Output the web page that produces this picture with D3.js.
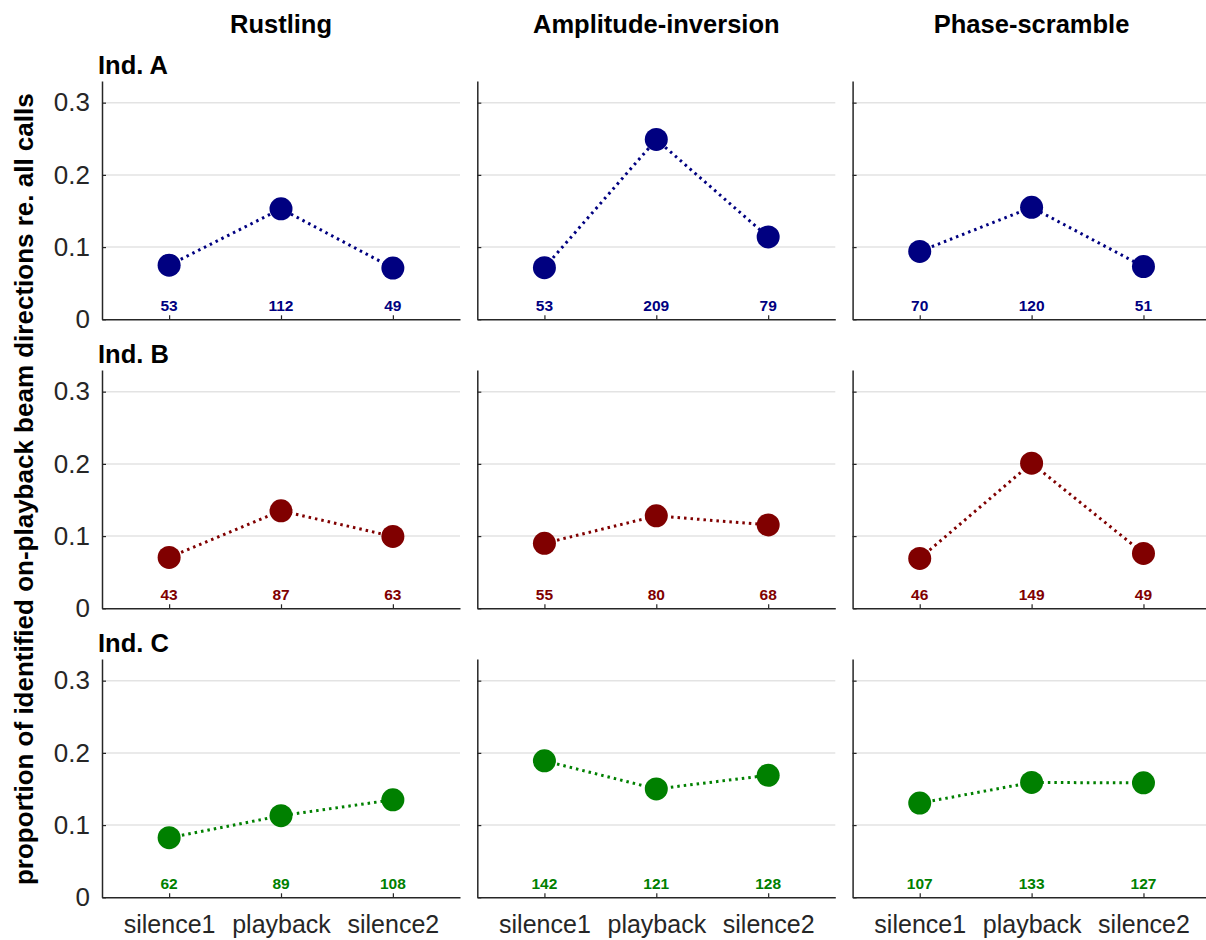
<!DOCTYPE html>
<html>
<head>
<meta charset="utf-8">
<script src="https://cdn.jsdelivr.net/npm/d3@7"></script>
<style>
  html, body { margin: 0; padding: 0; background: #fff; }
  svg { display: block; font-family: "Liberation Sans", Arial, Helvetica, sans-serif; }
</style>
</head>
<body>
<svg id="chart" width="1206" height="940"></svg>
<script>
// Stimulus types (columns), individuals (rows) and recording phases (x axis)
const stimuli = ["Rustling", "Amplitude-inversion", "Phase-scramble"];
const individuals = ["Ind. A", "Ind. B", "Ind. C"];
const phases = ["silence1", "playback", "silence2"];

// Proportion of on-playback beam directions, one row per stimulus
const proportionsA = [[0.075, 0.153, 0.071], [0.0715, 0.249, 0.114], [0.094, 0.155, 0.073]];
const proportionsB = [[0.0705, 0.135, 0.0995], [0.090, 0.128, 0.1155], [0.069, 0.201, 0.076]];
const proportionsC = [[0.0825, 0.113, 0.135], [0.189, 0.150, 0.169], [0.1305, 0.159, 0.1585]];

// Number of calls behind each proportion
const countsA = [[53, 112, 49], [53, 209, 79], [70, 120, 51]];
const countsB = [[43, 87, 63], [55, 80, 68], [46, 149, 49]];
const countsC = [[62, 89, 108], [142, 121, 128], [107, 133, 127]];

const individualColors = ["#000080", "#800000", "#008000"];

const yTicks = [0, 0.1, 0.2, 0.3];
const yTickLabels = ["0", "0.1", "0.2", "0.3"];
const yLabel = "proportion of identified on-playback beam directions re. all calls";

const proportions = [proportionsA, proportionsB, proportionsC];
const counts = [countsA, countsB, countsC];

// Layout
const panelW = 358, panelH = 238.3;
const left0 = 102, colStep = 375.3;
const zero0 = 319.3, rowStep = 289;
const axisColor = "#262626";

const svg = d3.select("#chart");

const x = d3.scalePoint().domain(phases).range([0, panelW]).padding(0.6);
const y = d3.scaleLinear().domain([0, 0.33]).range([panelH, 0]);

// Column titles
stimuli.forEach((s, c) => {
  svg.append("text")
    .attr("x", left0 + c * colStep + panelW / 2)
    .attr("y", 33)
    .attr("text-anchor", "middle")
    .attr("font-size", 25.5)
    .attr("font-weight", "bold")
    .attr("fill", "#000")
    .text(s);
});

// Shared y-axis label
svg.append("text")
  .attr("transform", `translate(33,${(zero0 - panelH + zero0 + 2 * rowStep) / 2}) rotate(-90)`)
  .attr("text-anchor", "middle")
  .attr("font-size", 26)
  .attr("font-weight", "bold")
  .attr("fill", "#000")
  .text(yLabel);

individuals.forEach((ind, r) => {
  const zeroY = zero0 + r * rowStep;
  const top = zeroY - panelH;

  // Row label
  svg.append("text")
    .attr("x", 98)
    .attr("y", top - 7.5)
    .attr("font-size", 25.5)
    .attr("font-weight", "bold")
    .attr("fill", "#000")
    .text(ind);

  stimuli.forEach((s, c) => {
    const g = svg.append("g")
      .attr("transform", `translate(${left0 + c * colStep},${top})`);

    // Horizontal grid lines
    g.append("g").selectAll("line")
      .data(yTicks.filter(t => t > 0))
      .join("line")
      .attr("x1", 0).attr("x2", panelW)
      .attr("y1", d => y(d)).attr("y2", d => y(d))
      .attr("stroke", "#e3e3e3")
      .attr("stroke-width", 1.5);

    // Y axis
    const yAxis = d3.axisLeft(y)
      .tickValues(yTicks)
      .tickSize(-4)
      .tickSizeOuter(0)
      .tickPadding(12)
      .tickFormat((d, i) => c === 0 ? yTickLabels[i] : "");
    const ya = g.append("g").call(yAxis);
    ya.select(".domain").attr("stroke", axisColor).attr("stroke-width", 1.5);
    ya.selectAll(".tick line").attr("stroke", axisColor).attr("stroke-width", 1.2);
    ya.selectAll(".tick text")
      .attr("font-size", 26)
      .attr("font-family", "Liberation Sans, Arial, sans-serif")
      .attr("fill", axisColor);

    // X axis
    const xAxis = d3.axisBottom(x)
      .tickSize(-4)
      .tickSizeOuter(0)
      .tickPadding(18)
      .tickFormat(d => r === individuals.length - 1 ? d : "");
    const xa = g.append("g").attr("transform", `translate(0,${panelH})`).call(xAxis);
    xa.select(".domain").attr("stroke", axisColor).attr("stroke-width", 1.5);
    xa.selectAll(".tick line").attr("stroke", axisColor).attr("stroke-width", 1.2);
    xa.selectAll(".tick text")
      .attr("font-size", 25)
      .attr("font-family", "Liberation Sans, Arial, sans-serif")
      .attr("fill", axisColor);

    const vals = proportions[r][c];
    const pts = phases.map((p, i) => ({ phase: p, value: vals[i], n: counts[r][c][i] }));
    const color = individualColors[r];

    // Dotted connecting line
    g.append("path")
      .datum(pts)
      .attr("fill", "none")
      .attr("stroke", color)
      .attr("stroke-width", 3)
      .attr("stroke-dasharray", "2.5,4")
      .attr("d", d3.line().x(d => x(d.phase)).y(d => y(d.value)));

    // Markers
    g.append("g").selectAll("circle")
      .data(pts)
      .join("circle")
      .attr("cx", d => x(d.phase))
      .attr("cy", d => y(d.value))
      .attr("r", 11.5)
      .attr("fill", color);

    // Call counts above the x axis
    g.append("g").selectAll("text")
      .data(pts)
      .join("text")
      .attr("x", d => x(d.phase))
      .attr("y", panelH - 8.5)
      .attr("text-anchor", "middle")
      .attr("font-size", 15.5)
      .attr("font-weight", "bold")
      .attr("fill", color)
      .text(d => d.n);
  });
});
</script>
</body>
</html>
